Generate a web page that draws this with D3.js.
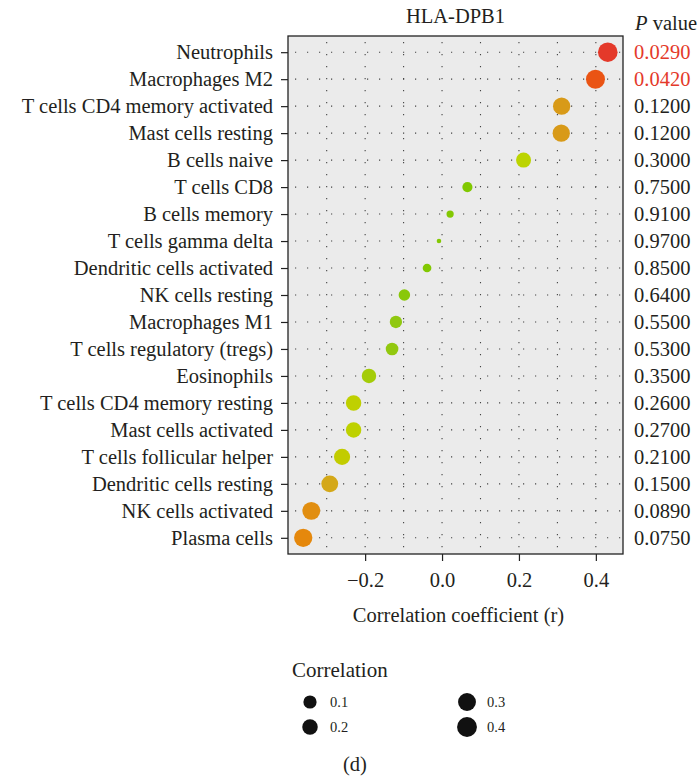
<!DOCTYPE html>
<html>
<head>
<meta charset="utf-8">
<script src="https://cdn.jsdelivr.net/npm/d3@7"></script>
<style>
  body { margin: 0; background: #fff; }
  text { font-family: "Liberation Serif", "DejaVu Serif", serif; fill: #231f20; }
</style>
</head>
<body>
<svg id="chart" width="698" height="777"></svg>
<script>
const cells = [
  "Neutrophils", "Macrophages M2", "T cells CD4 memory activated", "Mast cells resting",
  "B cells naive", "T cells CD8", "B cells memory", "T cells gamma delta",
  "Dendritic cells activated", "NK cells resting", "Macrophages M1", "T cells regulatory (tregs)",
  "Eosinophils", "T cells CD4 memory resting", "Mast cells activated", "T cells follicular helper",
  "Dendritic cells resting", "NK cells activated", "Plasma cells"
];
const corr = [0.431, 0.399, 0.311, 0.310, 0.212, 0.066, 0.021, -0.008, -0.039, -0.098,
  -0.120, -0.130, -0.190, -0.230, -0.230, -0.260, -0.292, -0.340, -0.361];
const pvals = ["0.0290", "0.0420", "0.1200", "0.1200", "0.3000", "0.7500", "0.9100", "0.9700",
  "0.8500", "0.6400", "0.5500", "0.5300", "0.3500", "0.2600", "0.2700", "0.2100",
  "0.1500", "0.0890", "0.0750"];
const xTicks = [-0.2, 0, 0.2, 0.4];
const gridX = [-0.3, -0.2, -0.1, 0, 0.1, 0.2, 0.3, 0.4];
const legendVals = [0.1, 0.2, 0.3, 0.4];
// colour stops for p value
const pStops = [0.029, 0.042, 0.075, 0.12, 0.15, 0.21, 0.3, 0.35, 0.55, 0.75, 0.97];
const pColors = ["#e4392a", "#ea5414", "#e5880c", "#d89a18", "#d4a818", "#c2cc00", "#bcd400",
  "#a4cc08", "#90c810", "#80c800", "#84c804"];

const data = cells.map((c, i) => ({ cell: c, r: corr[i], p: pvals[i] }));

const svg = d3.select("#chart");
const pLeft = 288, pRight = 623, pTop = 36, pBottom = 554;
const fs = "20.5px";

const x = d3.scaleLinear().domain([-0.4006, 0.4706]).range([pLeft, pRight]);
const y = d3.scalePoint().domain(cells).range([pTop, pBottom]).padding(0.6);
const color = d3.scaleLinear().domain(pStops).range(pColors).clamp(true);

const absVals = data.map(d => Math.abs(d.r));
const aMin = d3.min(absVals), aMax = d3.max(absVals);
const rad = d3.scaleLinear().domain([0, 1]).range([2.3, 9.8]);
const size = v => rad(Math.sqrt(Math.max(0, (v - aMin) / (aMax - aMin))));

// panel
svg.append("rect")
  .attr("x", pLeft).attr("y", pTop)
  .attr("width", pRight - pLeft).attr("height", pBottom - pTop)
  .attr("fill", "#ebebeb");

const grid = svg.append("g")
  .attr("stroke", "#444").attr("stroke-width", 1.1).attr("stroke-dasharray", "1.2,10.8");
grid.selectAll("line.h").data(cells).join("line")
  .attr("x1", pLeft + 7).attr("x2", pRight)
  .attr("y1", d => y(d)).attr("y2", d => y(d));
grid.selectAll("line.v").data(gridX).join("line")
  .attr("x1", d => x(d)).attr("x2", d => x(d))
  .attr("y1", pTop + 6).attr("y2", pBottom);

// points
svg.append("g").selectAll("circle").data(data).join("circle")
  .attr("cx", d => x(d.r)).attr("cy", d => y(d.cell))
  .attr("r", d => size(Math.abs(d.r)))
  .attr("fill", d => color(+d.p));

// border
svg.append("rect")
  .attr("x", pLeft).attr("y", pTop)
  .attr("width", pRight - pLeft).attr("height", pBottom - pTop)
  .attr("fill", "none").attr("stroke", "#222").attr("stroke-width", 1.3);

// axes
const yAxis = svg.append("g").attr("transform", `translate(${pLeft},0)`)
  .call(d3.axisLeft(y).tickSize(7).tickPadding(8));
const xAxis = svg.append("g").attr("transform", `translate(0,${pBottom})`)
  .call(d3.axisBottom(x).tickValues(xTicks).tickSize(7).tickPadding(11)
    .tickFormat(d => d3.format(".1f")(d).replace("-", "\u2212")));
[yAxis, xAxis].forEach(a => {
  a.select(".domain").remove();
  a.selectAll(".tick line").attr("stroke", "#222").attr("stroke-width", 1.2);
  a.selectAll(".tick text").attr("fill", "#231f20")
    .style("font-family", '"Liberation Serif", serif').style("font-size", fs);
});

// p values
svg.append("g").selectAll("text").data(data).join("text")
  .attr("x", 634).attr("y", d => y(d.cell)).attr("dy", "0.34em")
  .style("font-size", fs)
  .style("fill", d => +d.p < 0.05 ? "#e4392a" : "#231f20")
  .text(d => d.p);

const pt = svg.append("text").attr("x", 635).attr("y", 30).style("font-size", fs);
pt.append("tspan").style("font-style", "italic").text("P");
pt.append("tspan").text(" value");

svg.append("text").attr("x", (pLeft + pRight) / 2).attr("y", 23)
  .attr("text-anchor", "middle").style("font-size", fs).text("HLA-DPB1");

svg.append("text").attr("x", (pLeft + pRight) / 2 + 3).attr("y", 622)
  .attr("text-anchor", "middle").style("font-size", fs).text("Correlation coefficient (r)");

// legend
svg.append("text").attr("x", 292).attr("y", 677).style("font-size", "21px").text("Correlation");
const lg = svg.append("g").selectAll("g").data(legendVals).join("g")
  .attr("transform", (d, i) => `translate(${310 + Math.floor(i / 2) * 157},${702 + (i % 2) * 25})`);
lg.append("circle").attr("r", d => Math.max(size(d) + 0.4, 6.6)).attr("fill", "#111");
lg.append("text").attr("x", 20).attr("dy", "0.35em").style("font-size", "14.5px")
  .text(d => d3.format(".1f")(d));

svg.append("text").attr("x", 355).attr("y", 771)
  .attr("text-anchor", "middle").style("font-size", fs).text("(d)");
</script>
</body>
</html>
